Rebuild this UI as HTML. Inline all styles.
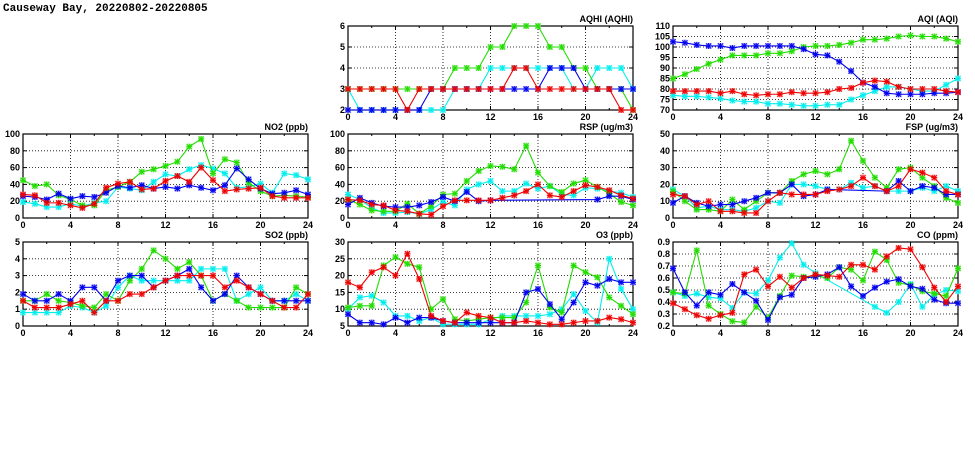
<!DOCTYPE html>
<html><head><meta charset="utf-8"><style>
body{margin:0;background:#fff;width:975px;height:447px;overflow:hidden}
svg text{font-family:"Liberation Sans",sans-serif;font-weight:bold;font-size:9px;fill:#000}
</style></head><body>
<svg id="s" width="975" height="447" xmlns="http://www.w3.org/2000/svg">
<text x="3" y="11" style="font-size:11px;font-family:'Liberation Mono',monospace">Causeway Bay, 20220802-20220805</text>
</svg>
<script>
const N=null;
const C={g:"#22dd00",c:"#00eeee",b:"#0000ee",r:"#ee0000"};
const P=[
{t:"AQHI (AQHI)",x:348,y:26,lo:2,hi:6,st:1,d:{
g:[3,3,3,3,3,3,3,3,3,4,4,4,5,5,6,6,6,5,5,4,4,3,3,3,2],
c:[3,2,2,2,2,2,2,2,2,3,3,3,4,4,4,4,4,4,4,3,3,4,4,4,3],
b:[2,2,2,2,2,2,2,3,3,3,3,3,3,3,3,3,3,4,4,4,3,3,3,3,3],
r:[3,3,3,3,3,2,3,3,3,3,3,3,3,3,4,4,3,3,3,3,3,3,3,2,2]}},
{t:"AQI (AQI)",x:673,y:26,lo:70,hi:110,st:5,d:{
g:[85,87,89.5,92,94,96,96,96,97,97,98,100,100.5,100.5,101,102,103.5,103.5,104,105,105.5,105,105,104,102.5],
c:[77,76.5,76.5,76,75.5,74.5,74,74,73,73,72.5,72,72,72.5,72.5,75,77,79,81,81,80,79,79,82,85],
b:[102.5,102,101,100.5,100.5,99.5,100.5,100.5,100.5,100.5,100.5,99,96.5,96,93,88.5,83,81,78,77.5,77.5,77.5,78,78,78.5],
r:[79,79,79,79,78,79,77.5,77,77.5,77.5,78.5,78,78,78.5,80,80.5,83,84,83.5,81,80,80,80,79,78.5]}},
{t:"NO2 (ppb)",x:23,y:134,lo:0,hi:100,st:20,d:{
g:[45,38,40,27,22,15,15,33,37,43,55,58,62,67,85,94,53,70,66,42,32,26,27,26,25],
c:[19,17,13,13,17,14,18,20,37,35,33,43,52,50,58,63,59,53,36,37,41,30,53,51,46],
b:[26,25,22,29,23,26,25,30,38,36,39,35,37,35,39,36,33,39,59,46,35,29,30,33,28],
r:[28,27,18,18,15,12,17,36,41,43,34,35,44,50,43,60,45,32,34,35,36,26,24,24,24]}},
{t:"RSP (ug/m3)",x:348,y:134,lo:0,hi:100,st:20,d:{
g:[22,16,9,8,8,17,5,14,28,29,44,56,62,61,58,86,54,38,31,41,45,37,29,19,15],
c:[28,22,12,6,6,7,5,10,19,15,34,40,44,32,32,41,35,38,28,27,36,35,32,30,25],
b:[16,24,18,14,13,13,15,19,25,20,31,20,21,N,N,N,N,N,N,N,N,22,26,26,22],
r:[22,21,16,15,9,8,5,4,14,21,21,21,21,24,27,32,40,27,25,32,39,37,33,27,23]}},
{t:"FSP (ug/m3)",x:673,y:134,lo:0,hi:50,st:10,d:{
g:[16,10,5,5,4,11,5,10,15,15,22,26,28,26,29,46,34,24,18,29,30,24,19,12,9],
c:[17,13,6,7,5,5,4,6,10,9,20,20,19,17,17,21,18,19,16,16,16,18,16,19,16],
b:[9,13,9,7,8,8,10,12,15,15,20,13,14,17,N,N,N,N,16,22,16,19,18,14,14],
r:[14,13,8,10,4,4,3,3,10,15,14,14,14,16,17,19,24,19,16,19,29,27,24,16,14]}},
{t:"SO2 (ppb)",x:23,y:242,lo:0,hi:5,st:1,d:{
g:[1.5,1.5,1.9,1.5,1.4,1.2,1.1,1.9,1.5,2.7,3.4,4.5,4.0,3.4,3.8,3.0,1.5,1.9,1.5,1.1,1.1,1.1,1.1,2.3,1.9],
c:[0.8,0.8,0.8,0.8,1.2,1.1,0.8,1.2,2.3,3.0,2.7,2.7,2.7,2.7,2.7,3.4,3.4,3.4,1.5,1.9,2.3,1.5,1.5,1.9,1.5],
b:[1.9,1.5,1.5,1.9,1.5,2.3,2.3,1.5,2.7,3.0,3.0,2.3,2.7,3.0,3.4,2.3,1.5,1.9,3.0,2.3,1.9,1.5,1.5,1.5,1.5],
r:[1.5,1.1,1.1,1.1,1.3,1.5,0.8,1.5,1.5,1.9,1.9,2.3,2.7,3.0,3.0,3.0,3.0,2.3,2.7,2.3,1.9,1.5,1.1,1.1,1.9]}},
{t:"O3 (ppb)",x:348,y:242,lo:5,hi:30,st:5,d:{
g:[10.5,11,11,23,25.5,23.5,22.5,10,13,7,6.5,7,7.5,7.5,7.5,12,23,10.5,9,23,21,19.5,13.5,11,8.5],
c:[10,13.5,14,12,8,8,6.5,7.5,5.5,5.5,5.5,5.5,7,8,8,8,8,8.5,10,14.5,9.5,6,25,16,10],
b:[8.5,6,6,5.5,7.5,6,7.5,7.5,6.5,6,6,6,6,6,6,15,16,11.5,7,12,18,17,19,18,18],
r:[18,16.5,21,22.5,20,26.5,19,8,6.5,6,9,8,7.5,6,6,6.5,6,5.5,5.5,6,6.5,6.5,7.5,7,6]}},
{t:"CO (ppm)",x:673,y:242,lo:0.2,hi:0.9,st:0.1,d:{
g:[0.48,0.47,0.83,0.37,0.30,0.24,0.23,0.36,0.27,0.45,0.62,0.61,0.62,0.60,0.69,0.67,0.58,0.82,0.75,0.56,0.54,0.49,0.47,0.45,0.68],
c:[0.48,0.45,0.47,0.44,0.43,0.35,0.48,0.47,0.58,0.77,0.89,0.71,0.64,N,N,N,N,0.36,0.31,0.40,0.55,0.36,0.46,0.50,0.49],
b:[0.68,0.48,0.37,0.48,0.46,0.55,0.48,0.41,0.25,0.44,0.46,0.60,0.61,0.63,0.69,0.53,0.45,0.52,0.57,0.59,0.53,0.51,0.42,0.39,0.39],
r:[0.39,0.34,0.29,0.26,0.29,0.31,0.63,0.67,0.53,0.61,0.52,0.60,0.63,0.62,0.61,0.71,0.71,0.67,0.78,0.85,0.84,0.69,0.52,0.40,0.53]}}
];
const W=285,H=84;let o="";
for(const p of P){
 const X=h=>p.x+h*W/24, Y=v=>p.y+H-(v-p.lo)/(p.hi-p.lo)*H;
 const n=Math.round((p.hi-p.lo)/p.st);
 for(let i=0;i<=n;i++){const v=p.lo+i*p.st,y=Y(v);
  if(i>0&&i<n)o+=`<line x1="${p.x}" x2="${p.x+W}" y1="${y}" y2="${y}" stroke="#000" stroke-width="0.8" stroke-dasharray="1,2"/>`;
  o+=`<line x1="${p.x}" x2="${p.x+4}" y1="${y}" y2="${y}" stroke="#000"/><line x1="${p.x+W-4}" x2="${p.x+W}" y1="${y}" y2="${y}" stroke="#000"/>`;
  let lab=(p.st<1)?v.toFixed(1):String(Math.round(v));
  o+=`<text x="${p.x-3}" y="${y+3}" text-anchor="end">${lab}</text>`;}
 for(let h=0;h<=24;h+=2){const x=X(h),L=h%4?2:4;
  if(h%4==0&&h>0&&h<24)o+=`<line x1="${x}" x2="${x}" y1="${p.y}" y2="${p.y+H}" stroke="#000" stroke-width="0.8" stroke-dasharray="1,2"/>`;
  o+=`<line x1="${x}" x2="${x}" y1="${p.y+H}" y2="${p.y+H-L}" stroke="#000"/><line x1="${x}" x2="${x}" y1="${p.y}" y2="${p.y+L}" stroke="#000"/>`;
  if(h%4==0)o+=`<text x="${x}" y="${p.y+H+10}" text-anchor="middle">${h}</text>`;}
 o+=`<rect x="${p.x}" y="${p.y}" width="${W}" height="${H}" fill="none" stroke="#000" stroke-width="1.2"/>`;
 o+=`<text x="${p.x+W}" y="${p.y-4}" text-anchor="end">${p.t}</text>`;
 for(const k of ["c","g","b","r"]){const a=p.d[k];let pts=[];
  a.forEach((v,h)=>{if(v!==null)pts.push([X(h),Y(Math.max(p.lo,Math.min(p.hi,v)))]);});
  o+=`<polyline fill="none" stroke="${C[k]}" stroke-width="1.1" points="${pts.map(q=>q.join(",")).join(" ")}"/>`;
  for(const [x,y] of pts){
   o+=`<rect x="${x-3}" y="${y-3}" width="6" height="6" fill="${C[k]}" fill-opacity="0.3"/>`;
   o+=`<path d="M${x-2.5} ${y-2.5}L${x+2.5} ${y+2.5}M${x-2.5} ${y+2.5}L${x+2.5} ${y-2.5}M${x} ${y-3}V${y+3}M${x-3} ${y}H${x+3}" stroke="${C[k]}" stroke-width="1"/>`;}
 }
}
document.getElementById("s").insertAdjacentHTML("beforeend",o);
</script>
</body></html>
